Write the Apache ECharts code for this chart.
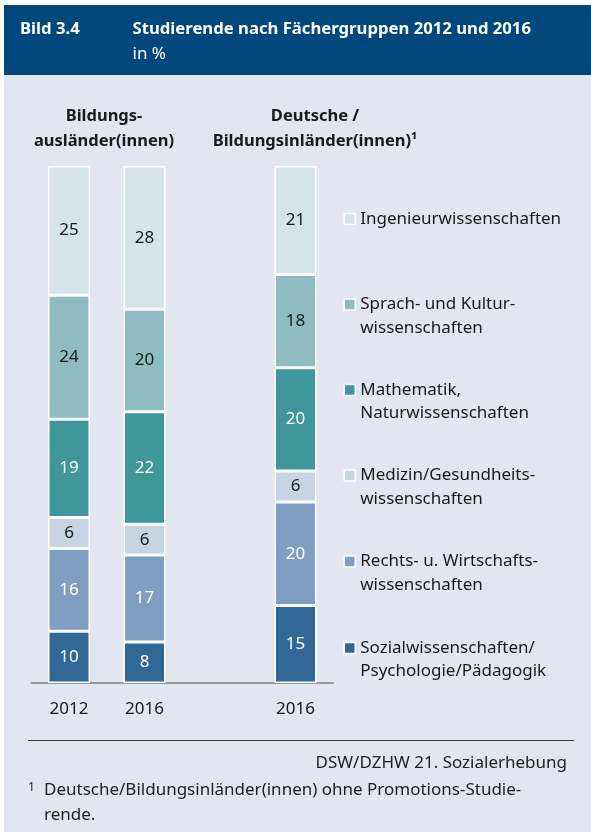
<!DOCTYPE html>
<html>
<head>
<meta charset="utf-8">
<script src="https://cdn.jsdelivr.net/npm/echarts@6/dist/echarts.min.js"></script>
<style>
  html, body { margin: 0; padding: 0; background: #fff; }
  #chart { width: 591px; height: 832px; }
</style>
</head>
<body>
<div id="chart"></div>
<script>
// slots on the x axis: two Bildungsausländer columns, an empty gap, one Deutsche/Bildungsinländer column
const columns = ['ba2012', 'ba2016', 'gap', 'dbi2016']
const tickLabels = ['2012', '2016', '', '2016']

// Fächergruppen, bottom of the stack first
const groupNames = [
  'Sozialwissenschaften/\nPsychologie/Pädagogik',
  'Rechts- u. Wirtschafts-\nwissenschaften',
  'Medizin/Gesundheits-\nwissenschaften',
  'Mathematik,\nNaturwissenschaften',
  'Sprach- und Kultur-\nwissenschaften',
  'Ingenieurwissenschaften',
]
const sozial = [10, 8, null, 15]
const recht = [16, 17, null, 20]
const medizin = [6, 6, null, 6]
const mathe = [19, 22, null, 20]
const sprach = [24, 20, null, 18]
const ingenieur = [25, 28, null, 21]
const groupValues = [sozial, recht, medizin, mathe, sprach, ingenieur]

const colors = ['#326896', '#809dc2', '#c6d4e4', '#3f979c', '#8fbbc3', '#d4e4e8']
const labelColors = ['#fff', '#fff', '#1a1a1a', '#fff', '#1a1a1a', '#1a1a1a']

const FONT = '"Noto Sans", sans-serif'
const TEXT = '#1a1a1a'
const BG = '#e2e6f1'
const HEAD = '#00477b'
const LINE = 23.5

// each column is drawn as a 100 % bar (2016 Bildungsausländer sums to 101 through rounding)
const totals = columns.map((c, i) =>
  groupValues.reduce((s, arr) => s + (arr[i] || 0), 0))

const series = groupValues.map((vals, k) => ({
  name: groupNames[k],
  type: 'bar',
  stack: 'all',
  barWidth: 42,
  data: vals.map((v, i) => (v == null ? '-' : (v / totals[i]) * 100)),
  itemStyle: { color: colors[k], borderColor: '#fff', borderWidth: 1.5 },
  label: {
    show: true,
    position: 'inside',
    fontFamily: FONT,
    fontSize: 17,
    color: labelColors[k],
    formatter: (p) => String(vals[p.dataIndex]),
  },
  emphasis: { disabled: true },
}))

// legend, top to bottom, first-line centres
const legendOrder = groupNames.slice().reverse()
const legendCenters = [219, 304.5, 390, 475.5, 561.5, 648]
const legends = legendOrder.map((name, i) => {
  const twoLines = name.indexOf('\n') >= 0
  return {
    data: [name],
    left: 343.5,
    // a blank line above two-line names keeps the marker on the first line
    top: legendCenters[i] - (twoLines ? LINE * 1.5 : LINE / 2),
    padding: 0,
    orient: 'vertical',
    icon: 'rect',
    itemWidth: 11,
    itemHeight: 11,
    selectedMode: false,
    formatter: (n) => (twoLines ? ' \n' + n : n),
    itemStyle: { borderColor: '#fff', borderWidth: 1.5 },
    textStyle: { fontFamily: FONT, fontSize: 17, color: TEXT, lineHeight: LINE },
  }
})

const txt = (x, y, text, font, fill, align, extra) => ({
  type: 'text',
  x: x,
  y: y,
  z: 10,
  style: Object.assign({
    text: text,
    font: font,
    fill: fill,
    align: align,
    textAlign: align,
    verticalAlign: 'middle',
    textVerticalAlign: 'middle',
  }, extra || {}),
})

const chart = echarts.init(document.getElementById('chart'), null, { renderer: 'canvas' })
chart.setOption({
  animation: false,
  backgroundColor: BG,
  grid: { left: 31.25, right: 257.75, top: 166, bottom: 149 },
  xAxis: {
    type: 'category',
    data: columns,
    axisTick: { show: false },
    axisLine: { lineStyle: { color: '#808080', width: 1.5 } },
    axisLabel: {
      formatter: (v, i) => tickLabels[i],
      fontFamily: FONT,
      fontSize: 17,
      color: TEXT,
      lineHeight: 20,
      margin: 16,
    },
  },
  yAxis: { type: 'value', min: 0, max: 100, show: false },
  legend: legends,
  series: series,
  graphic: [
    { type: 'rect', shape: { x: 0, y: 0, width: 591, height: 5 }, style: { fill: '#fff' } },
    { type: 'rect', shape: { x: 0, y: 0, width: 4, height: 832 }, style: { fill: '#fff' } },
    { type: 'rect', shape: { x: 4, y: 5, width: 587, height: 70 }, style: { fill: HEAD } },
    txt(20, 29, 'Bild 3.4', 'bold 16.7px ' + FONT, '#fff', 'left'),
    txt(132.5, 29, 'Studierende nach Fächergruppen 2012 und 2016', 'bold 16.7px ' + FONT, '#fff', 'left'),
    txt(132.5, 54, 'in %', '17px ' + FONT, '#fff', 'left'),
    txt(104, 128.5, 'Bildungs-\nausländer(innen)', 'bold 16.5px ' + FONT, TEXT, 'center', { lineHeight: 25 }),
    txt(315, 128.5, 'Deutsche /\nBildungsinländer(innen)¹', 'bold 16.5px ' + FONT, TEXT, 'center', { lineHeight: 25 }),
    { type: 'line', shape: { x1: 28, y1: 740.5, x2: 574, y2: 740.5 }, style: { stroke: '#3a3a3a', lineWidth: 1 } },
    txt(567, 763, 'DSW/DZHW 21. Sozialerhebung', '17px ' + FONT, '#222', 'right'),
    txt(28, 788, '1', '12px ' + FONT, '#222', 'left'),
    txt(44, 802.5, 'Deutsche/Bildungsinländer(innen) ohne Promotions-Studie-\nrende.', '17px ' + FONT, '#222', 'left', { lineHeight: 25 }),
  ],
})
</script>
</body>
</html>
